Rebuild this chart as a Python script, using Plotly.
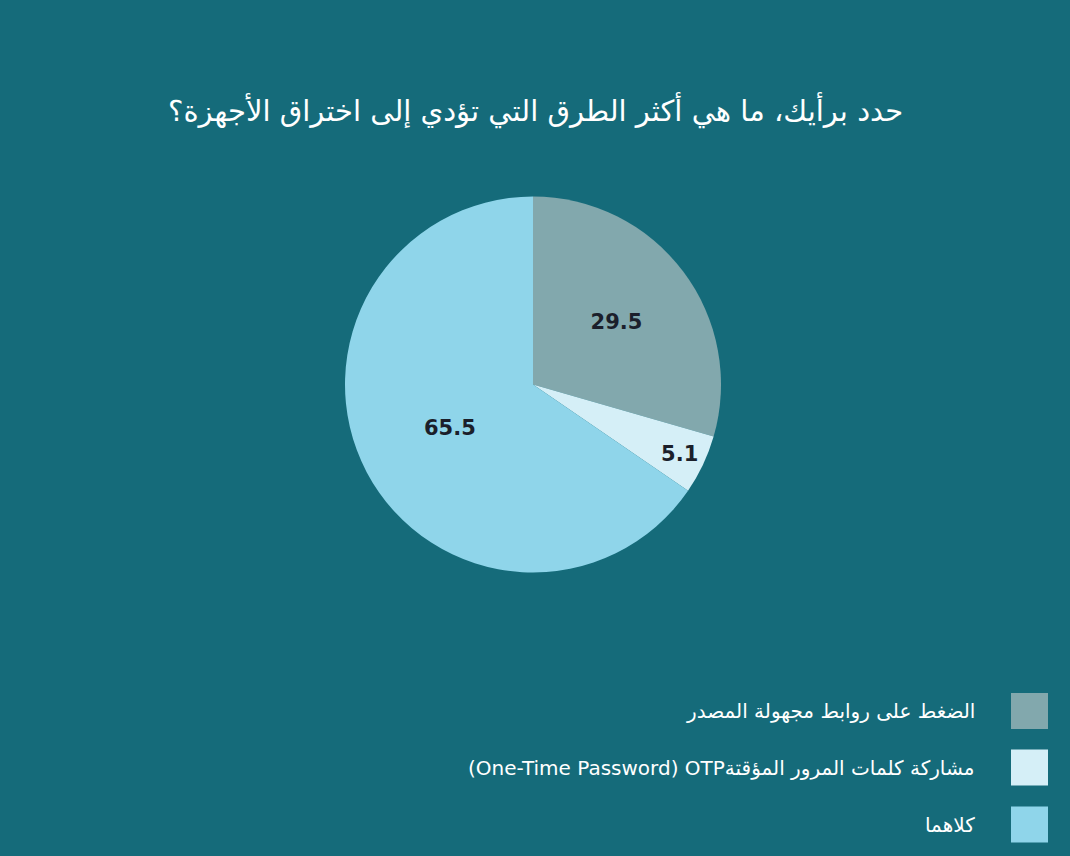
import plotly.graph_objects as go

title_text = "حدد برأيك، ما هي أكثر الطرق التي تؤدي إلى اختراق الأجهزة؟"
categories = [
    "الضغط على روابط مجهولة المصدر",
    "مشاركة كلمات المرور المؤقتةOTP\u200f (One-Time Password)",
    "كلاهما",
]
values = [29.5, 5.1, 65.5]
colors = ["#82a8ad", "#d5eff7", "#8fd5ea"]

BG = "#156b7a"
W, H = 1070, 856

fig = go.Figure()
fig.add_trace(go.Pie(
    labels=categories,
    values=values,
    sort=False,
    direction="clockwise",
    rotation=0,
    marker=dict(colors=colors, line=dict(width=0)),
    textinfo="value",
    texttemplate="%{value}",
    textposition="inside",
    insidetextorientation="horizontal",
    textfont=dict(family="DejaVu Sans", size=21, color="#1b1f2b", weight="bold"),
    domain=dict(x=[345 / W, 721 / W], y=[1 - 573 / H, 1 - 196 / H]),
    showlegend=False,
    hoverinfo="label+value",
))

# Manual right-to-left legend (squares on the right, text to their left)
legend_y = [711, 767.5, 824.5]
shapes = []
annotations = []
for cat, col, yc in zip(categories, colors, legend_y):
    shapes.append(dict(
        type="rect", xref="paper", yref="paper",
        x0=1011 / W, x1=1048 / W,
        y0=1 - (yc + 18) / H, y1=1 - (yc - 18) / H,
        fillcolor=col, line=dict(width=0),
    ))
    annotations.append(dict(
        text="\u202b" + cat + "\u202c", xref="paper", yref="paper",
        x=977 / W, y=1 - yc / H, xanchor="right", yanchor="middle",
        showarrow=False,
        font=dict(family="DejaVu Sans", size=20, color="white"),
    ))

annotations.append(dict(
    text="\u202b" + title_text + "\u202c", xref="paper", yref="paper",
    x=535 / W, y=1 - 110 / H, xanchor="center", yanchor="middle",
    showarrow=False,
    font=dict(family="DejaVu Sans", size=29, color="white"),
))

fig.update_layout(
    width=W, height=H,
    margin=dict(l=0, r=0, t=0, b=0),
    paper_bgcolor=BG,
    plot_bgcolor=BG,
    shapes=shapes,
    annotations=annotations,
)

fig.write_html(
    "out.html",
    config={"displayModeBar": False},
    post_script="document.body.style.margin='0';document.body.style.overflow='hidden';document.body.style.background='" + BG + "';",
)
